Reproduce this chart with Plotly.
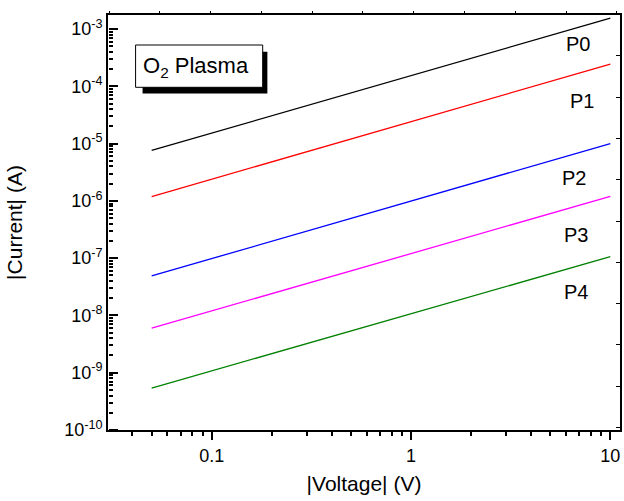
import plotly.graph_objects as go

# ---- data ----
voltage = [0.05, 1.0, 10.0]
series_names = ["P0", "P1", "P2", "P3", "P4"]
current_P0 = [7.6e-6, 1.52e-4, 1.55e-3]
current_P1 = [1.19e-6, 2.4e-5, 2.44e-4]
current_P2 = [4.9e-8, 9.8e-7, 1.0e-5]
current_P3 = [6.0e-9, 1.2e-7, 1.2e-6]
current_P4 = [5.4e-10, 1.07e-8, 1.06e-7]
colors = ["black", "#ff0000", "#0000ff", "#ff00ff", "#008000"]
y_tick_exps = [-10, -9, -8, -7, -6, -5, -4, -3]
x_tick_vals = [0.1, 1, 10]
x_tick_text = ["0.1", "1", "10"]

FONT = "Liberation Sans, Arial, Helvetica, sans-serif"
W, H = 624, 501
L, R, T, B = 108, 2, 15, 71
PW, PH = W - L - R, H - T - B

x_minor = [m * 10.0 ** d for d in (-2, -1, 0, 1) for m in range(2, 10)]
y_major = [10.0 ** e for e in y_tick_exps]
y_minor = [m * 10.0 ** d for d in range(-10, -2) for m in range(2, 10)]
X_RANGE = [-1.52, 1.0485]
Y_RANGE = [-10, -2.755]


def px(x):
    return (x - L) / PW


def py(y):
    return (H - B - y) / PH


fig = go.Figure()
for name, vals, c in zip(series_names,
                         [current_P0, current_P1, current_P2, current_P3, current_P4],
                         colors):
    fig.add_trace(go.Scatter(x=voltage, y=vals, mode="lines", name=name,
                             line=dict(color=c, width=1.3), showlegend=False))

# invisible helper traces so the tick-only axes are drawn
for ya in ("y3", "y4"):
    fig.add_trace(go.Scatter(x=[1], y=[1e-6], xaxis="x", yaxis=ya, mode="markers",
                             marker=dict(opacity=0), showlegend=False, hoverinfo="skip"))
fig.add_trace(go.Scatter(x=[1], y=[1], xaxis="x2", yaxis="y2", mode="markers",
                         marker=dict(opacity=0), showlegend=False, hoverinfo="skip"))

fig.update_layout(
    width=W, height=H,
    margin=dict(l=L, r=R, t=T, b=B),
    paper_bgcolor="white", plot_bgcolor="white",
    font=dict(family=FONT, color="black", size=17),
    xaxis=dict(
        type="log", range=X_RANGE,
        showgrid=False, zeroline=False,
        showline=True, linecolor="black", linewidth=2, mirror=True,
        ticks="outside", ticklen=8, tickwidth=1.5, tickcolor="black",
        tickmode="array", tickvals=x_tick_vals, ticktext=x_tick_text,
        tickfont=dict(size=18),
        minor=dict(tickmode="array", tickvals=x_minor, ticks="outside", ticklen=4,
                   tickwidth=1.5, tickcolor="black", showgrid=False),
        title=dict(text="|Voltage| (V)", font=dict(size=21), standoff=12),
    ),
    yaxis=dict(
        type="log", range=Y_RANGE,
        showgrid=False, zeroline=False,
        showline=True, linecolor="black", linewidth=2, mirror=True,
        ticks="", tickmode="array",
        tickvals=y_major,
        ticktext=["10<sup>%d</sup>" % e for e in y_tick_exps],
        tickfont=dict(size=18),
        title=dict(text="|Current| (A)", font=dict(size=21), standoff=36),
    ),
    # tick marks pointing into the plot from the left frame
    yaxis3=dict(
        type="log", range=Y_RANGE, overlaying="y", side="right",
        anchor="free", position=0,
        showgrid=False, zeroline=False, showline=False,
        tickmode="array", tickvals=y_major, showticklabels=False,
        ticks="outside", ticklen=9, tickwidth=1.5, tickcolor="black",
    ),
    yaxis4=dict(
        type="log", range=Y_RANGE, overlaying="y", side="right",
        anchor="free", position=0,
        showgrid=False, zeroline=False, showline=False,
        tickmode="array", tickvals=y_minor, showticklabels=False,
        ticks="outside", ticklen=4, tickwidth=1.5, tickcolor="black",
    ),
    # small frame ticks on top and right
    xaxis2=dict(overlaying="x", side="top", anchor="y2", range=[-1.02, 9.06],
                tickmode="linear", dtick=1, tick0=0,
                showticklabels=False, ticks="outside", ticklen=3, tickcolor="black",
                tickwidth=1, showgrid=False, zeroline=False, showline=False),
    yaxis2=dict(overlaying="y", side="left", anchor="free", position=1,
                range=[-0.06, 9.99], tickmode="linear", dtick=1, tick0=0,
                showticklabels=False, ticks="outside", ticklen=4, tickcolor="black",
                tickwidth=1, showgrid=False, zeroline=False, showline=False),
)

# series labels
label_pos = [(580, 44), (584, 101), (576, 178), (578, 235), (578, 292)]
for name, (lx, ly) in zip(series_names, label_pos):
    fig.add_annotation(x=px(lx), y=py(ly), xref="paper", yref="paper", text=name,
                       showarrow=False, font=dict(size=20, family=FONT, color="black"),
                       xanchor="center", yanchor="middle")

# O2 Plasma box with drop shadow
fig.add_shape(type="rect", xref="paper", yref="paper",
              x0=px(142.7), x1=px(268), y0=py(93.5), y1=py(51.7),
              fillcolor="black", line=dict(width=0), layer="above")
fig.add_shape(type="rect", xref="paper", yref="paper",
              x0=px(135.7), x1=px(263.3), y0=py(87.3), y1=py(45),
              fillcolor="white", line=dict(color="black", width=1), layer="above")
fig.add_annotation(x=px(196), y=py(67), xref="paper", yref="paper",
                   text="O<sub>2</sub> Plasma", showarrow=False,
                   font=dict(size=22, family=FONT, color="black"),
                   xanchor="center", yanchor="middle")

fig.write_html("out.html")
